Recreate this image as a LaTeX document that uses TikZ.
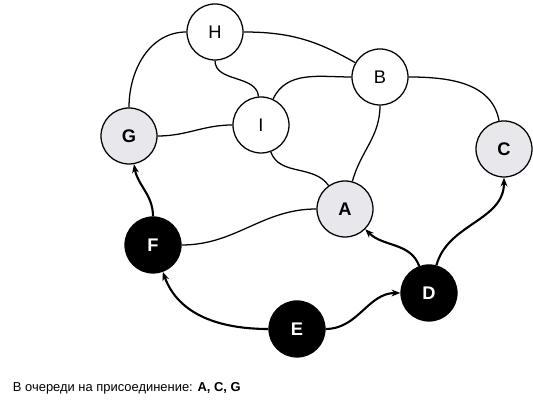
\documentclass[tikz,border=0pt]{standalone}
\usepackage{fontspec}
\setmainfont{Liberation Sans}
\usetikzlibrary{arrows.meta}
\definecolor{queuegray}{RGB}{232,232,236}

\begin{document}
\begin{tikzpicture}[>={Stealth[length=2.2mm,width=1.7mm]},
  vertex/.style={circle,draw,line width=0.9pt,minimum size=1.4cm,inner sep=0pt,fill=white,font=\fontsize{13}{15}\selectfont},
  queued/.style={vertex,fill=queuegray,font=\fontsize{13}{15}\selectfont\bfseries},
  joined/.style={vertex,fill=black,text=white,font=\fontsize{13}{15}\selectfont\bfseries},
  link/.style={line width=0.9pt},
  pick/.style={line width=1.5pt,->}]
\useasboundingbox (0,0) rectangle (13.325,10.225);
\node[vertex] (H) at (5.375,9.425) {H};
\node[vertex] (B) at (9.5,8.3) {B};
\node[vertex] (I) at (6.525,7.1) {I};
\node[queued] (G) at (3.225,6.825) {G};
\node[queued] (C) at (12.6,6.5) {C};
\node[queued] (A) at (8.625,5.0) {A};
\node[joined] (F) at (3.825,4.1) {F};
\node[joined] (D) at (10.725,2.9) {D};
\node[joined] (E) at (7.425,2.0) {E};
\draw[link] (H) to[out=180,in=90] (G);
\draw[link] (H) to[out=0,in=150] (B);
\draw[link] (H) to[out=-90,in=95] (I);
\draw[link] (B) to[out=180,in=65] (I);
\draw[link] (B) to[out=0,in=100] (C);
\draw[link] (B) to[out=-90,in=75] (A);
\draw[link] (I) to[out=180,in=0] (G);
\draw[link] (I) to[out=-70,in=125] (A);
\draw[link] (A) to[out=180,in=0] (F);
\draw[pick] (D) to[out=110,in=-45] (A);
\draw[pick] (D) to[out=75,in=-90] (C);
\draw[pick] (F) to[out=90,in=-80] (G);
\draw[pick] (E) to[out=180,in=-70] (F);
\draw[pick] (E) to[out=0,in=180] (D);
\node[anchor=base west,font=\fontsize{9.2}{11}\selectfont] (queue) at (0.2,0.425) {В очереди на присоединение: \textbf{A, C, G}};
\end{tikzpicture}
\end{document}
